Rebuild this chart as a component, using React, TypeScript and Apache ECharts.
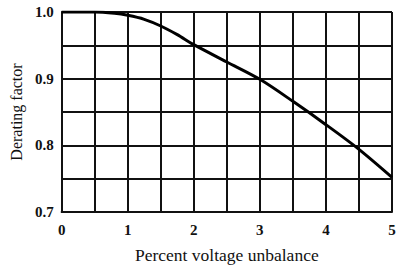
import React, { useEffect, useRef } from "react";
import * as echarts from "echarts";

const unbalance = [0, 0.5, 0.8, 1.0, 1.25, 1.5, 1.75, 2, 2.5, 3, 3.5, 4, 4.5, 5];
const deratingFactor = [1.0, 1.0, 0.998, 0.995, 0.989, 0.979, 0.966, 0.951, 0.925, 0.899, 0.866, 0.831, 0.794, 0.752];

const FONT = "'Liberation Serif', 'DejaVu Serif', serif";

export default function App() {
  const ref = useRef<HTMLDivElement>(null);
  useEffect(() => {
    const chart = echarts.init(ref.current!, null, { renderer: "svg" });
    const data = unbalance.map((x, i) => [x, deratingFactor[i]]);
    chart.setOption({
      animation: false,
      backgroundColor: "#ffffff",
      grid: { left: 60, right: 8, top: 12, bottom: 60 },
      xAxis: {
        type: "value",
        min: 0,
        max: 5,
        interval: 0.5,
        name: "Percent voltage unbalance",
        nameLocation: "middle",
        nameGap: 34,
        nameTextStyle: { fontFamily: FONT, fontSize: 17.5, color: "#111" },
        axisLine: { show: true, lineStyle: { color: "#111", width: 2 } },
        axisTick: { show: false },
        splitLine: { show: true, lineStyle: { color: "#111", width: 2 } },
        axisLabel: {
          fontFamily: FONT,
          fontSize: 15,
          fontWeight: "bold",
          color: "#111",
          margin: 10,
          formatter: (v: number) => (Math.abs(v - Math.round(v)) < 1e-6 ? String(Math.round(v)) : ""),
        },
      },
      yAxis: {
        type: "value",
        min: 0.7,
        max: 1.0,
        interval: 0.05,
        name: "Derating factor",
        nameLocation: "middle",
        nameGap: 36,
        nameTextStyle: { fontFamily: FONT, fontSize: 16, color: "#111" },
        axisLine: { show: true, lineStyle: { color: "#111", width: 2 } },
        axisTick: { show: false },
        splitLine: { show: true, lineStyle: { color: "#111", width: 2 } },
        axisLabel: {
          fontFamily: FONT,
          fontSize: 15,
          fontWeight: "bold",
          color: "#111",
          margin: 8,
          formatter: (v: number) =>
            Math.abs(v * 10 - Math.round(v * 10)) < 1e-6 ? v.toFixed(1) : "",
        },
      },
      series: [
        {
          type: "line",
          data,
          smooth: 0.3,
          showSymbol: false,
          lineStyle: { color: "#000", width: 3 },
        },
      ],
    });
    return () => chart.dispose();
  }, []);
  return <div ref={ref} style={{ width: 400, height: 272, position: "absolute", left: 0, top: 0 }} />;
}
